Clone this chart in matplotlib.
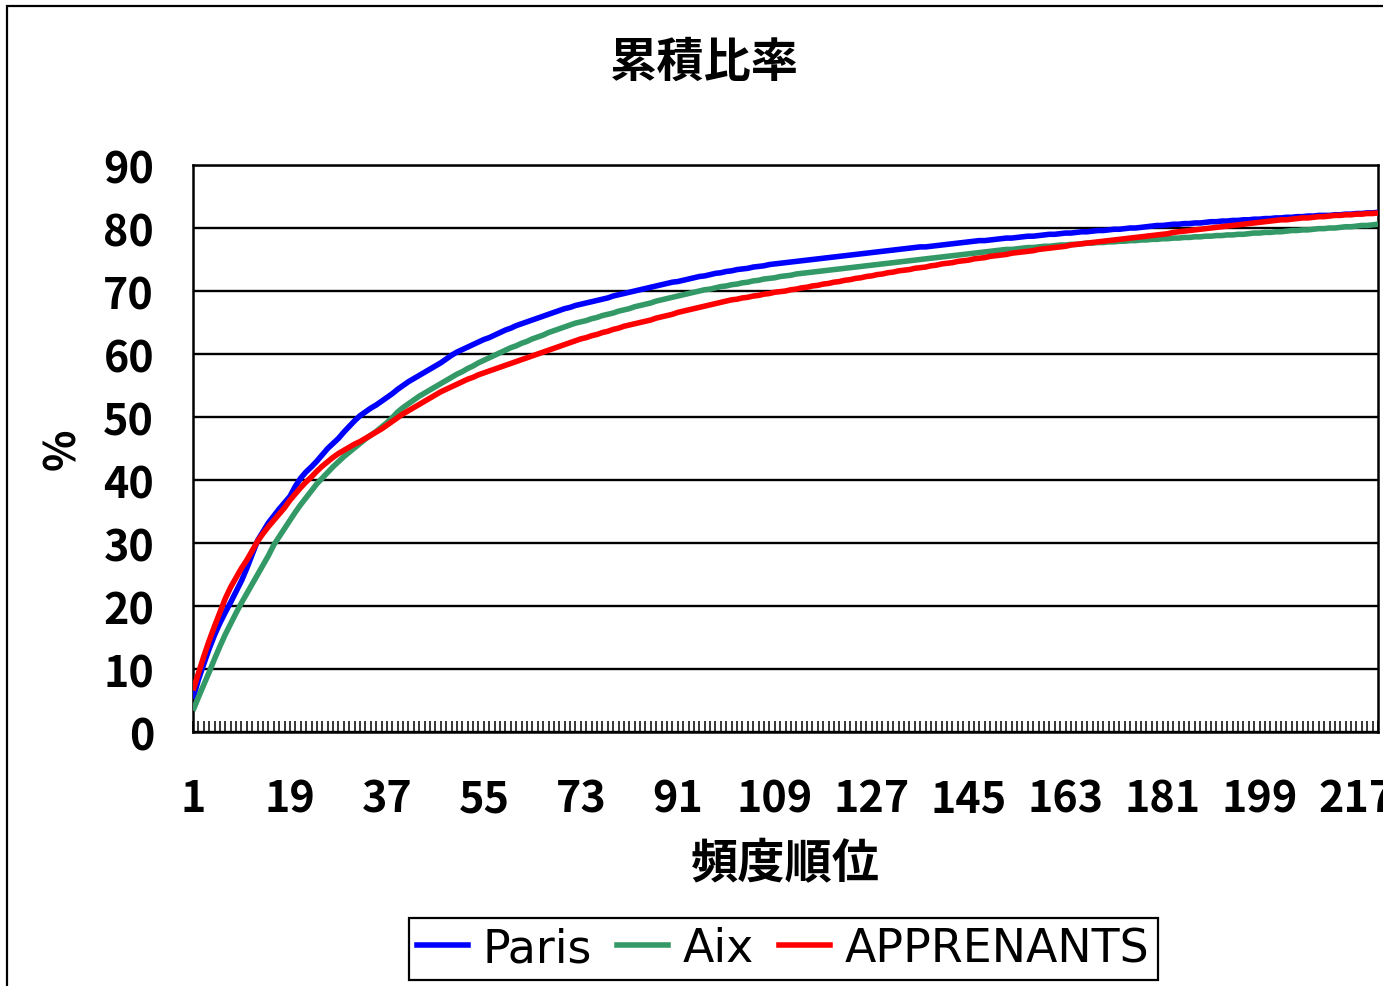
import matplotlib
matplotlib.use('Agg')
import matplotlib.pyplot as plt
from matplotlib import font_manager
from matplotlib.patches import Rectangle
from matplotlib.lines import Line2D
import numpy as np

# ---------------- data ----------------
title = '累積比率'
xlabel = '頻度順位'
ylabel = '%'
series_names = ['Paris', 'Aix', 'APPRENANTS']
y_ticks = [0, 10, 20, 30, 40, 50, 60, 70, 80, 90]
x_tick_labels = [1, 19, 37, 55, 73, 91, 109, 127, 145, 163, 181, 199, 217]

paris = [
    5.3, 8.3, 10.8, 13.2, 15.4, 17.3, 19.0, 20.6, 22.3, 24.0,
    26.0, 28.2, 30.4, 31.8, 33.2, 34.3, 35.4, 36.4, 37.4, 39.0,
    40.3, 41.3, 42.1, 43.0, 44.0, 45.0, 45.8, 46.6, 47.6, 48.5,
    49.4, 50.2, 50.8, 51.4, 51.9, 52.5, 53.1, 53.7, 54.4, 55.0,
    55.6, 56.1, 56.6, 57.1, 57.6, 58.1, 58.6, 59.2, 59.8, 60.3,
    60.7, 61.1, 61.5, 61.9, 62.3, 62.6, 63.0, 63.4, 63.8, 64.1,
    64.5, 64.8, 65.1, 65.4, 65.7, 66.0, 66.3, 66.6, 66.9, 67.2,
    67.4, 67.7, 67.9, 68.1, 68.3, 68.5, 68.7, 68.9, 69.2, 69.4,
    69.6, 69.8, 70.0, 70.2, 70.4, 70.6, 70.8, 71.0, 71.2, 71.4,
    71.5, 71.7, 71.9, 72.1, 72.3, 72.4, 72.6, 72.8, 72.9, 73.1,
    73.2, 73.4, 73.5, 73.6, 73.8, 73.9, 74.0, 74.2, 74.3, 74.4,
    74.5, 74.6, 74.7, 74.8, 74.9, 75.0, 75.1, 75.2, 75.3, 75.4,
    75.5, 75.6, 75.7, 75.8, 75.9, 76.0, 76.1, 76.2, 76.3, 76.4,
    76.5, 76.6, 76.7, 76.8, 76.9, 77.0, 77.0, 77.1, 77.2, 77.3,
    77.4, 77.5, 77.6, 77.7, 77.8, 77.9, 78.0, 78.0, 78.1, 78.2,
    78.3, 78.4, 78.4, 78.5, 78.6, 78.7, 78.7, 78.8, 78.9, 79.0,
    79.0, 79.1, 79.2, 79.2, 79.3, 79.4, 79.4, 79.5, 79.6, 79.6,
    79.7, 79.8, 79.8, 79.9, 80.0, 80.0, 80.1, 80.2, 80.3, 80.4,
    80.4, 80.5, 80.6, 80.6, 80.7, 80.7, 80.8, 80.8, 80.9, 81.0,
    81.0, 81.1, 81.1, 81.2, 81.2, 81.3, 81.3, 81.4, 81.4, 81.5,
    81.5, 81.6, 81.6, 81.7, 81.7, 81.8, 81.8, 81.9, 81.9, 82.0,
    82.0, 82.0, 82.1, 82.1, 82.2, 82.2, 82.3, 82.3, 82.4, 82.4, 82.5,
]

aix = [
    3.4, 5.5, 7.5, 9.5, 11.6, 13.6, 15.5, 17.2, 18.9, 20.5,
    22.0, 23.5, 25.0, 26.5, 28.0, 29.7, 31.0, 32.3, 33.6, 34.9,
    36.1, 37.2, 38.3, 39.4, 40.3, 41.2, 42.1, 42.9, 43.7, 44.4,
    45.1, 45.8, 46.5, 47.1, 47.7, 48.4, 49.1, 49.9, 50.8, 51.5,
    52.1, 52.7, 53.3, 53.8, 54.3, 54.8, 55.3, 55.8, 56.3, 56.8,
    57.2, 57.7, 58.1, 58.6, 59.0, 59.4, 59.8, 60.2, 60.6, 61.0,
    61.3, 61.7, 62.0, 62.4, 62.7, 63.0, 63.4, 63.7, 64.0, 64.3,
    64.6, 64.9, 65.1, 65.3, 65.6, 65.8, 66.1, 66.3, 66.5, 66.8,
    67.0, 67.2, 67.5, 67.7, 67.9, 68.1, 68.4, 68.6, 68.8, 69.0,
    69.2, 69.4, 69.6, 69.8, 70.0, 70.2, 70.3, 70.5, 70.7, 70.8,
    71.0, 71.1, 71.3, 71.4, 71.6, 71.7, 71.9, 72.0, 72.1, 72.3,
    72.4, 72.5, 72.7, 72.8, 72.9, 73.0, 73.1, 73.2, 73.3, 73.4,
    73.5, 73.6, 73.7, 73.8, 73.9, 74.0, 74.1, 74.2, 74.3, 74.4,
    74.5, 74.6, 74.7, 74.8, 74.9, 75.0, 75.1, 75.2, 75.3, 75.4,
    75.5, 75.6, 75.7, 75.8, 75.9, 76.0, 76.1, 76.2, 76.3, 76.4,
    76.5, 76.6, 76.6, 76.7, 76.8, 76.9, 76.9, 77.0, 77.1, 77.1,
    77.2, 77.3, 77.3, 77.4, 77.4, 77.5, 77.6, 77.6, 77.7, 77.7,
    77.8, 77.8, 77.9, 77.9, 78.0, 78.0, 78.1, 78.1, 78.2, 78.2,
    78.3, 78.3, 78.4, 78.4, 78.5, 78.5, 78.6, 78.6, 78.7, 78.7,
    78.8, 78.8, 78.9, 78.9, 79.0, 79.0, 79.1, 79.2, 79.2, 79.3,
    79.3, 79.4, 79.4, 79.5, 79.6, 79.6, 79.7, 79.7, 79.8, 79.9,
    79.9, 80.0, 80.0, 80.1, 80.2, 80.2, 80.3, 80.4, 80.4, 80.5, 80.6,
]

apprenants = [
    6.6, 9.3, 12.0, 14.5, 16.8, 19.0, 21.2, 23.0, 24.5, 26.0,
    27.3, 28.8, 30.3, 31.5, 32.6, 33.6, 34.6, 35.6, 36.8, 37.8,
    38.8, 39.7, 40.5, 41.4, 42.2, 42.9, 43.6, 44.2, 44.7, 45.2,
    45.7, 46.1, 46.6, 47.1, 47.6, 48.1, 48.7, 49.3, 49.9, 50.5,
    51.0, 51.5, 52.0, 52.5, 53.0, 53.5, 54.0, 54.4, 54.8, 55.2,
    55.6, 56.0, 56.3, 56.7, 57.0, 57.3, 57.6, 57.9, 58.2, 58.5,
    58.8, 59.1, 59.4, 59.7, 60.0, 60.3, 60.6, 60.9, 61.2, 61.5,
    61.8, 62.1, 62.4, 62.6, 62.9, 63.1, 63.4, 63.6, 63.9, 64.1,
    64.4, 64.6, 64.8, 65.0, 65.2, 65.4, 65.7, 65.9, 66.1, 66.3,
    66.6, 66.8, 67.0, 67.2, 67.4, 67.6, 67.8, 68.0, 68.2, 68.4,
    68.6, 68.7, 68.9, 69.0, 69.2, 69.3, 69.5, 69.6, 69.8, 69.9,
    70.0, 70.2, 70.3, 70.5, 70.6, 70.8, 70.9, 71.1, 71.2, 71.4,
    71.5, 71.7, 71.8, 72.0, 72.1, 72.3, 72.4, 72.6, 72.7, 72.9,
    73.0, 73.2, 73.3, 73.4, 73.6, 73.7, 73.8, 74.0, 74.1, 74.3,
    74.4, 74.5, 74.7, 74.8, 74.9, 75.1, 75.2, 75.3, 75.5, 75.6,
    75.7, 75.8, 76.0, 76.1, 76.2, 76.3, 76.4, 76.6, 76.7, 76.8,
    76.9, 77.0, 77.1, 77.3, 77.4, 77.5, 77.6, 77.7, 77.8, 77.9,
    78.0, 78.1, 78.2, 78.3, 78.4, 78.5, 78.6, 78.7, 78.8, 78.9,
    79.0, 79.1, 79.3, 79.4, 79.5, 79.6, 79.7, 79.8, 79.9, 80.0,
    80.1, 80.2, 80.3, 80.4, 80.5, 80.6, 80.7, 80.8, 80.9, 81.0,
    81.1, 81.2, 81.3, 81.3, 81.4, 81.5, 81.6, 81.6, 81.7, 81.8,
    81.8, 81.9, 82.0, 82.0, 82.1, 82.1, 82.2, 82.2, 82.3, 82.3, 82.4,
]

colors = ['#0000ff', '#339966', '#ff0000']

# ---------------- fonts ----------------
available = {f.name for f in font_manager.fontManager.ttflist}


def pick(cands):
    for c in cands:
        if c in available:
            return c
    return 'DejaVu Sans'


cjk = pick(['Noto Sans CJK JP', 'Noto Sans CJK SC'])
plt.rcParams['font.family'] = [cjk, 'DejaVu Sans']

# ---------------- figure ----------------
W, H = 1383, 987
fig = plt.figure(figsize=(W / 100, H / 100), dpi=100)
fig.patch.set_facecolor('white')

# outer chart border (only top/left visible in the crop)
fig.add_artist(Rectangle((7 / W, -0.2), 1.5, 1 - 7 / H + 0.2, transform=fig.transFigure,
                         fill=False, edgecolor='black', linewidth=1.6))

L, R, T, B = 193, 1378, 166, 733
ax = fig.add_axes([L / W, 1 - B / H, (R - L) / W, (B - T) / H])

xs = np.arange(1, len(paris) + 1)
for vals, name, col in zip([paris, aix, apprenants], series_names, colors):
    ax.plot(xs, vals, color=col, linewidth=4.0, label=name,
            solid_joinstyle='round', solid_capstyle='butt', zorder=3)

ax.set_xlim(1, len(paris))
ax.set_ylim(0, 90)

ax.set_yticks(y_ticks)
ax.set_yticklabels([str(v) for v in y_ticks], fontsize=31, fontweight='bold')
ax.yaxis.grid(True, color='black', linewidth=1.7)
ax.set_axisbelow(True)
ax.tick_params(axis='y', length=0, pad=28)

ax.set_xticks(x_tick_labels)
ax.set_xticklabels([str(v) for v in x_tick_labels], fontsize=31, fontweight='bold')
ax.set_xticks(xs, minor=True)
ax.tick_params(axis='x', which='both', direction='in', length=8, width=1.1, color='black')
ax.tick_params(axis='x', which='major', pad=32)

for s in ax.spines.values():
    s.set_color('black')
    s.set_linewidth(1.8)

fig.text(704 / W, 1 - 63 / H, title, fontsize=34, fontweight='bold',
         ha='center', va='center')
fig.text(785 / W, 1 - 864 / H, xlabel, fontsize=34, fontweight='bold',
         ha='center', va='center')
fig.text(62 / W, 1 - 449 / H, ylabel, fontsize=31, fontweight='bold',
         ha='center', va='center', rotation=90)

handles = [Line2D([], [], color=c, linewidth=4.0) for c in colors]
leg = fig.legend(handles, series_names, loc='center',
                 bbox_to_anchor=(783.5 / W, 1 - 950 / H), ncol=3,
                 frameon=True, fancybox=False, shadow=False,
                 edgecolor='black', framealpha=1,
                 prop={'family': 'DejaVu Sans', 'size': 33},
                 handlelength=1.1, handletextpad=0.33, columnspacing=0.55,
                 borderpad=0.18, borderaxespad=0)
leg.get_frame().set_linewidth(1.6)

fig.savefig('out.png', dpi=100, facecolor='white')
